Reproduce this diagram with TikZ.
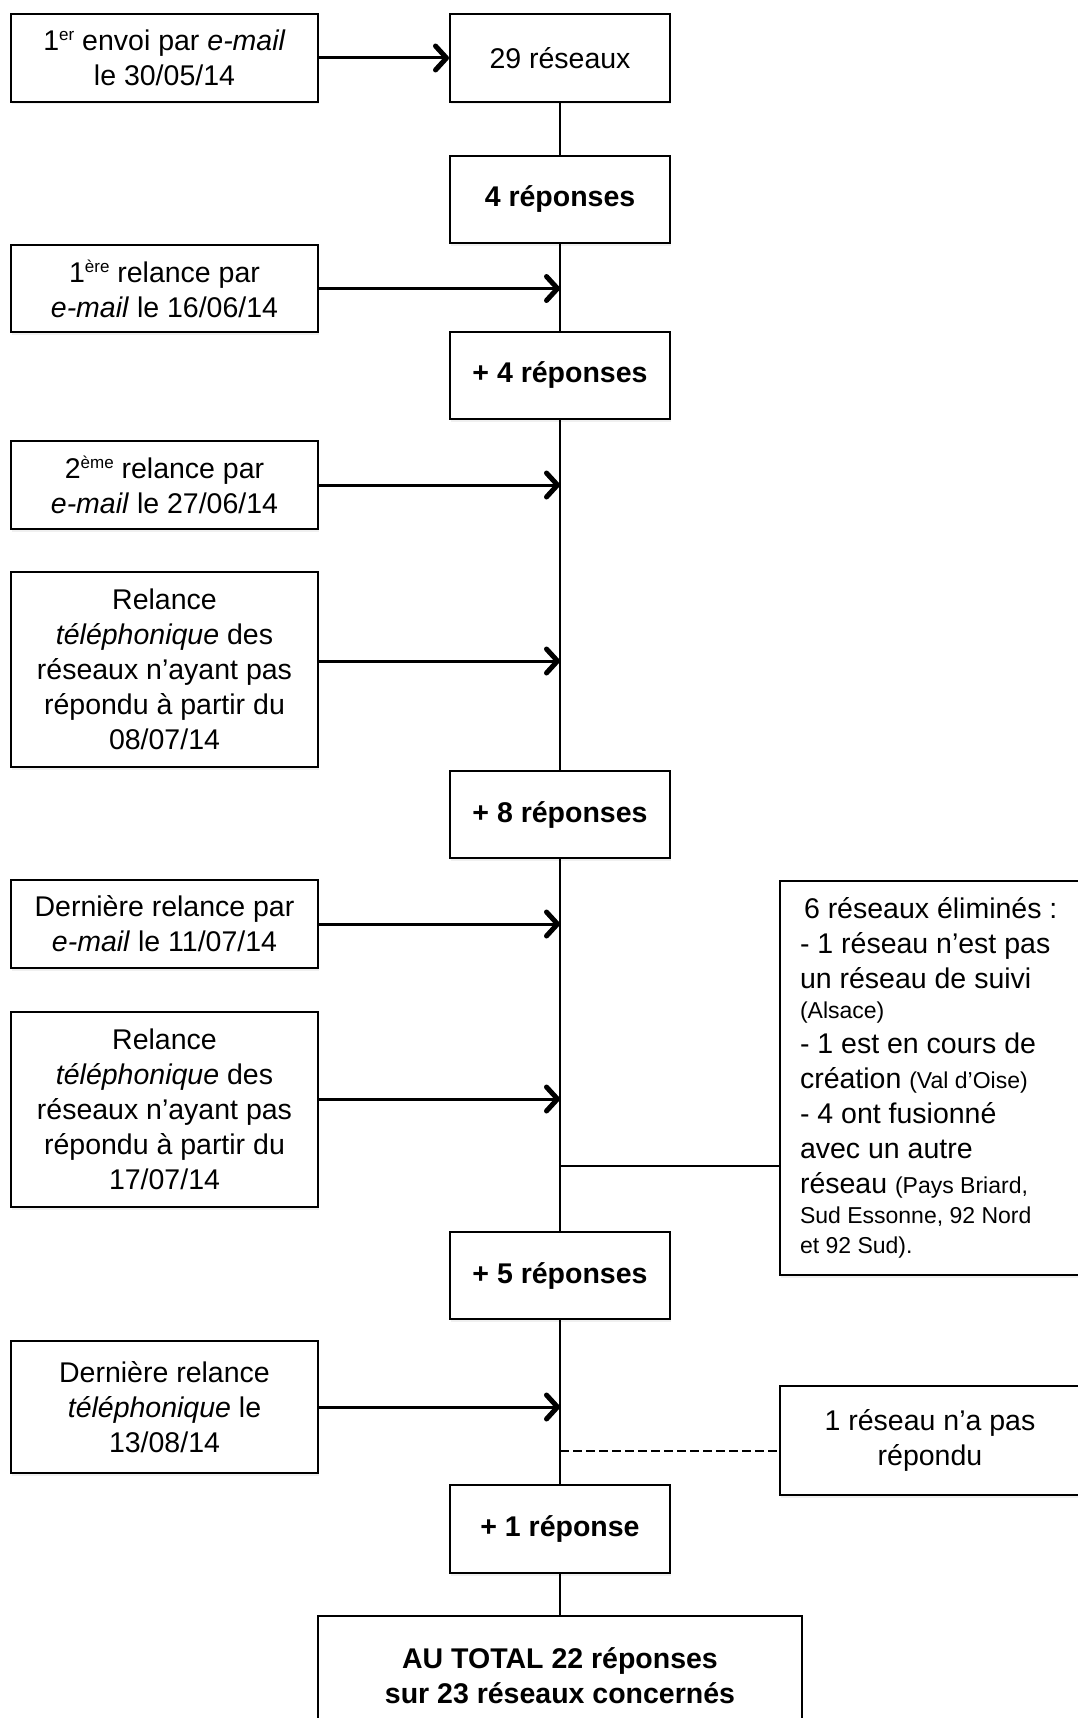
\documentclass[tikz,border=0pt]{standalone}
\usepackage{fontspec}
\setmainfont{Liberation Sans}
\usetikzlibrary{arrows.meta,shadows}
\newcommand{\sups}[1]{\raisebox{10pt}{\fontsize{17}{17}\selectfont #1}}
\newcommand{\smalltxt}[1]{{\fontsize{23}{30}\selectfont #1}}
\begin{document}
\begin{tikzpicture}[x=1pt,y=-1pt,
  box/.style={draw, fill=white, line width=2pt, rectangle, inner sep=0pt, align=center,
    font=\fontsize{28.5}{35}\selectfont,
    drop shadow={opacity=0.12, shadow xshift=1pt, shadow yshift=-2.5pt}},
  lbox/.style={box, minimum width=307pt},
  cbox/.style={box, minimum width=220pt, font=\fontsize{28.5}{35}\selectfont\bfseries},
  arr/.style={line width=3pt, -{Straight Barb[length=11pt,width=24pt,line width=5pt,round]}},
  link/.style={line width=2pt},
]
\useasboundingbox (0,0) rectangle (1077,1718);

% left boxes
\node[lbox, minimum height=88pt] (e1) at (164.5,58) {1\sups{er} envoi par \textit{e-mail}\\le 30/05/14};
\node[lbox, minimum height=87pt] (r1) at (164.5,288.5) {1\sups{ère} relance par\\\textit{e-mail} le 16/06/14};
\node[lbox, minimum height=88pt] (r2) at (164.5,485) {2\sups{ème} relance par\\\textit{e-mail} le 27/06/14};
\node[lbox, minimum height=195pt] (t1) at (164.5,669.5) {Relance\\\textit{téléphonique} des\\réseaux n’ayant pas\\répondu à partir du\\08/07/14};
\node[lbox, minimum height=88pt] (r3) at (164.5,924) {Dernière relance par\\\textit{e-mail} le 11/07/14};
\node[lbox, minimum height=195pt] (t2) at (164.5,1109.5) {Relance\\\textit{téléphonique} des\\réseaux n’ayant pas\\répondu à partir du\\17/07/14};
\node[lbox, minimum height=132pt] (t3) at (164.5,1407) {Dernière relance\\\textit{téléphonique} le\\13/08/14};

% centre boxes
\node[box, minimum width=220pt, minimum height=88pt] (c29) at (560,58) {29 réseaux};
\node[cbox, minimum height=87pt] (c4) at (560,199.5) {4 réponses};
\node[cbox, minimum height=87pt] (c4b) at (560,375.5) {+ 4 réponses};
\node[cbox, minimum height=87pt] (c8) at (560,814.5) {+ 8 réponses};
\node[cbox, minimum height=87pt] (c5) at (560,1275.5) {+ 5 réponses};
\node[cbox, minimum height=88pt] (c1) at (560,1529) {+ 1 réponse};
\node[cbox, minimum width=484pt, minimum height=120pt] (tot) at (560,1676) {AU TOTAL 22 réponses\\sur 23 réseaux concernés};

% right boxes
\node[box, align=flush left, text width=275pt, inner xsep=20pt, minimum height=394pt, anchor=north west] (R1) at (779,880)
 {\hspace*{4pt}6 réseaux éliminés :\\
  - 1 réseau n’est pas\\
  un réseau de suivi\\[-5pt]
  \smalltxt{(Alsace)}\\
  - 1 est en cours de\\
  création \smalltxt{(Val d’Oise)}\\
  - 4 ont fusionné\\
  avec un autre\\
  réseau \smalltxt{(Pays Briard,}\\[-5pt]
  \smalltxt{Sud Essonne, 92 Nord}\\[-5pt]
  \smalltxt{et 92 Sud).}};
\node[box, minimum width=300pt, minimum height=109pt, anchor=north west] (R2) at (779,1385) {1 réseau n’a pas\\répondu};

% spine
\draw[link] (c29.south) -- (c4.north);
\draw[link] (c4.south) -- (c4b.north);
\draw[link] (c4b.south) -- (c8.north);
\draw[link] (c8.south) -- (c5.north);
\draw[link] (c5.south) -- (c1.north);
\draw[link] (c1.south) -- (tot.north);

% arrow ends on spine
\coordinate (a1) at (560,288.5);
\coordinate (a2) at (560,485);
\coordinate (a3) at (560,661);
\coordinate (a4) at (560,924);
\coordinate (a5) at (560,1099);
\coordinate (j1) at (560,1166);
\coordinate (a6) at (560,1407);
\coordinate (j2) at (560,1451);

\draw[arr] (e1.east) -- (c29.west);
\draw[arr] (r1.east) -- (a1);
\draw[arr] (r2.east) -- (a2);
\draw[arr] (t1.east |- a3) -- (a3);
\draw[arr] (r3.east) -- (a4);
\draw[arr] (t2.east |- a5) -- (a5);
\draw[arr] (t3.east |- a6) -- (a6);

\draw[line width=2.5pt] (j1) -- (j1 -| R1.west);
\draw[line width=2.5pt, dash pattern=on 9pt off 4pt] (j2) -- (j2 -| R2.west);
\end{tikzpicture}
\end{document}
